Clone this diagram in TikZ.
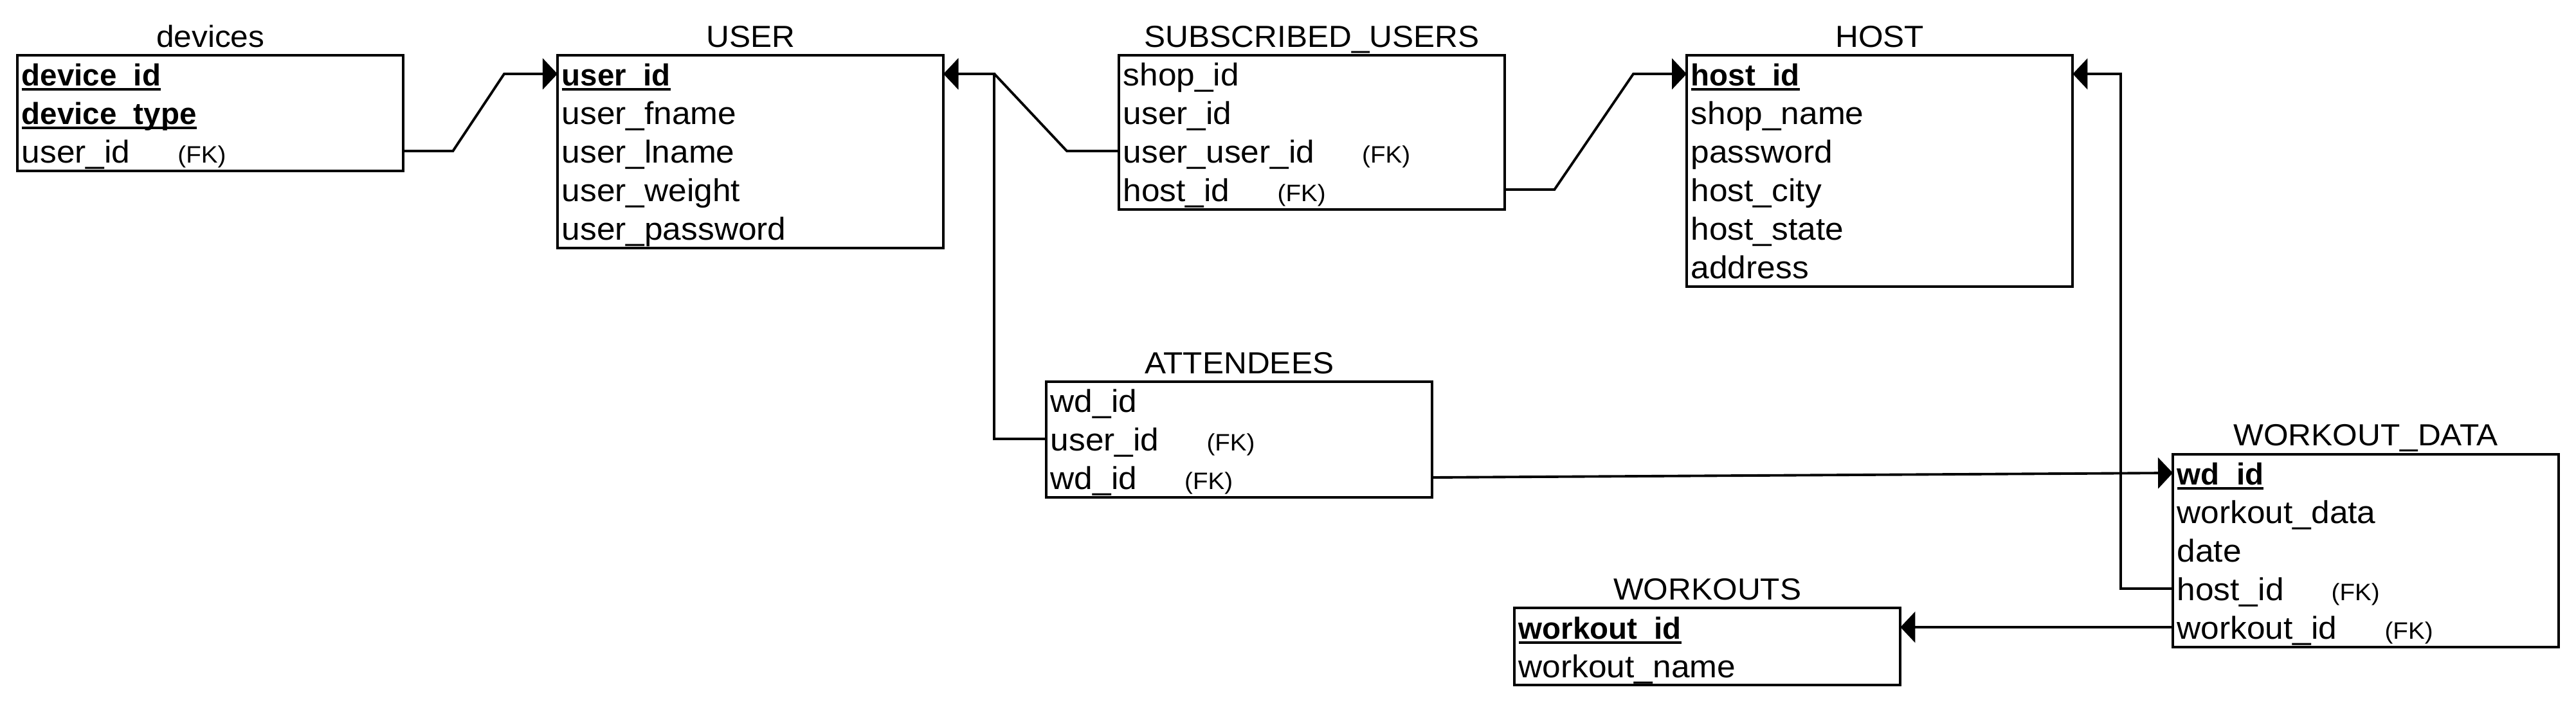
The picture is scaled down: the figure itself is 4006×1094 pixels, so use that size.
\documentclass[tikz,border=0pt]{standalone}
\usepackage{fontspec}
\setmainfont[FakeStretch=1.045]{Liberation Sans}
\newfontfamily\keyfont{Liberation Sans}
\usepackage{tikz}
\usetikzlibrary{arrows.meta, calc}

\newcommand\rowfont{\fontsize{14}{16}\selectfont}
\newcommand\ttlfont{\fontsize{13.5}{16}\selectfont}
\newcommand\fk{\hspace{0.74cm}{\fontsize{10.5}{12}\selectfont (FK)}}
\newcommand\pkey[1]{\setbox0\hbox{\keyfont\bfseries\fontsize{13.5}{16}\selectfont #1}\rlap{\rule[-0.075cm]{\wd0}{0.035cm}}\box0}

\begin{document}
\begin{tikzpicture}[x=0.01cm, y=-0.01cm,
  tbl/.style={draw, line width=1.1pt, anchor=north west, minimum width=6cm,
    inner sep=0pt, outer sep=0pt},
  ttl/.style={anchor=base, inner sep=0pt, font=\ttlfont},
  fld/.style={anchor=west, inner sep=0pt, text height=0.44cm, text depth=0.08cm,
    font=\rowfont},
  rel/.style={line width=1.1pt, -{Triangle[length=0.23cm, width=0.48cm]}}]
  \useasboundingbox (0,0) rectangle (4006,1094);

  % devices
  \node[tbl, minimum height=1.8cm] (devices) at (27,86) {};
  \node[ttl] (devices-t) at ([yshift=0.12cm]devices.north) {devices};
  \node[fld] (d1) at (33,115) {\pkey{device\_id}};
  \node[fld] (d2) at (33,175) {\pkey{device\_type}};
  \node[fld] (d3) at (33,235) {user\_id\fk};

  % USER
  \node[tbl, minimum height=3cm] (user) at (867,86) {};
  \node[ttl] (user-t) at ([yshift=0.12cm]user.north) {USER};
  \node[fld] (u1) at (873,115) {\pkey{user\_id}};
  \node[fld] (u2) at (873,175) {user\_fname};
  \node[fld] (u3) at (873,235) {user\_lname};
  \node[fld] (u4) at (873,295) {user\_weight};
  \node[fld] (u5) at (873,355) {user\_password};

  % SUBSCRIBED_USERS
  \node[tbl, minimum height=2.4cm] (sub) at (1740,86) {};
  \node[ttl] (sub-t) at ([yshift=0.12cm]sub.north) {SUBSCRIBED\_USERS};
  \node[fld] (s1) at (1746,115) {shop\_id};
  \node[fld] (s2) at (1746,175) {user\_id};
  \node[fld] (s3) at (1746,235) {user\_user\_id\fk};
  \node[fld] (s4) at (1746,295) {host\_id\fk};

  % HOST
  \node[tbl, minimum height=3.6cm] (host) at (2623,86) {};
  \node[ttl] (host-t) at ([yshift=0.12cm]host.north) {HOST};
  \node[fld] (h1) at (2629,115) {\pkey{host\_id}};
  \node[fld] (h2) at (2629,175) {shop\_name};
  \node[fld] (h3) at (2629,235) {password};
  \node[fld] (h4) at (2629,295) {host\_city};
  \node[fld] (h5) at (2629,355) {host\_state};
  \node[fld] (h6) at (2629,415) {address};

  % ATTENDEES
  \node[tbl, minimum height=1.8cm] (att) at (1627,594) {};
  \node[ttl] (att-t) at ([yshift=0.12cm]att.north) {ATTENDEES};
  \node[fld] (a1) at (1633,623) {wd\_id};
  \node[fld] (a2) at (1633,683) {user\_id\fk};
  \node[fld] (a3) at (1633,743) {wd\_id\fk};

  % WORKOUT_DATA
  \node[tbl, minimum height=3cm] (wd) at (3379,707) {};
  \node[ttl] (wd-t) at ([yshift=0.13cm]wd.north) {WORKOUT\_DATA};
  \node[fld] (w1) at (3385,736) {\pkey{wd\_id}};
  \node[fld] (w2) at (3385,796) {workout\_data};
  \node[fld] (w3) at (3385,856) {date};
  \node[fld] (w4) at (3385,916) {host\_id\fk};
  \node[fld] (w5) at (3385,976) {workout\_id\fk};

  % WORKOUTS
  \node[tbl, minimum height=1.2cm] (wk) at (2355,946) {};
  \node[ttl] (wk-t) at ([yshift=0.13cm]wk.north) {WORKOUTS};
  \node[fld] (k1) at (2361,976) {\pkey{workout\_id}};
  \node[fld] (k2) at (2361,1036) {workout\_name};

  % relations
  \draw[rel] (devices.east |- d3) -- ++(77,0) -- ($(user.west |- u1)+(-83,0)$) -- (user.west |- u1);
  \draw[rel] (sub.west |- s3) -- ++(-81,0) -- ($(user.east |- u1)+(79,0)$) -- (user.east |- u1);
  \draw[rel] (att.west |- a2) -- ++(-81,0) |- (user.east |- u1);
  \draw[rel] (sub.east |- s4) -- ++(77,0) -- ($(host.west |- h1)+(-83,0)$) -- (host.west |- h1);
  \draw[rel] (wd.west |- w4) -- ++(-81,0) |- (host.east |- h1);
  \draw[rel] (att.east |- a3) -- (wd.west |- w1);
  \draw[rel] (wd.west |- w5) -- (wk.east |- k1);
\end{tikzpicture}
\end{document}
